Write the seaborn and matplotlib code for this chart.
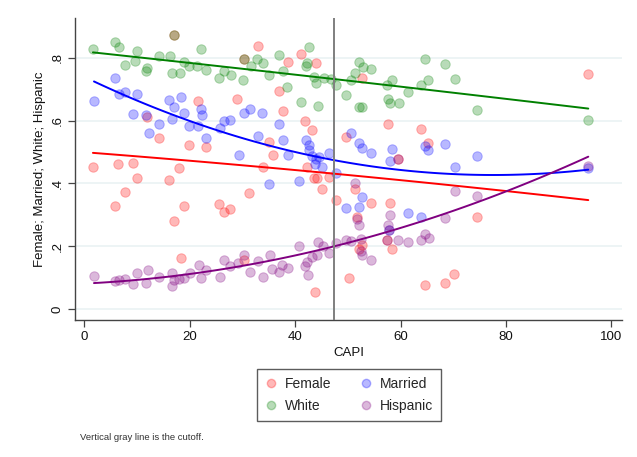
import numpy as np
import pandas as pd
import matplotlib
matplotlib.use("Agg")
import matplotlib.pyplot as plt
from matplotlib.lines import Line2D
import seaborn as sns

# ---------------- data ----------------
female_x = [17, 21.5, 11.8, 14.2, 19.9, 23, 1.6, 6.3, 9.3, 17.9, 33, 41, 38.7, 43.9, 30.3, 36.9, 29,
            37.6, 41.9, 43.1, 35, 35.7, 33.8, 42.3, 49.6, 43.6, 44.2, 45.1, 46.4, 47.7, 31.3, 25.6,
            26.5, 27.6, 30.3, 43.8, 50.2, 10, 16.1, 7.6, 5.7, 18.9, 17, 18.3, 51.4, 54.3, 57.9, 51.8,
            52.1, 52.7, 58.3, 57.4, 64.6, 68.4, 70.1, 74.5, 52.7, 57.6, 63.8, 65.2, 59.5, 95.6]
female_y = [.872, .662, .612, .543, .522, .517, .453, .462, .464, .448, .838, .813, .785, .782, .795,
            .695, .670, .629, .599, .570, .533, .491, .453, .453, .548, .417, .417, .384, .422, .346,
            .369, .335, .310, .318, .157, .056, .098, .417, .412, .372, .329, .329, .282, .162, .384,
            .339, .339, .293, .193, .205, .193, .220, .077, .085, .113, .293, .734, .589, .572, .530,
            .477, .748]

married_x = [1.8, 5.7, 6.5, 7.6, 10, 9.3, 11.6, 12.2, 14.2, 16.1, 17, 18.3, 16.7, 18.9, 19.8, 21.5,
             22.1, 22.3, 23, 25.7, 26.5, 27.6, 30.3, 31.4, 33.6, 36.9, 33, 29.4, 37.6, 38.7, 42,
             42.6, 42.6, 43.2, 43.9, 44.5, 46.4, 45.1, 43.8, 35, 40.8, 47.8, 49.6, 50.5, 52.1, 52.7,
             54.3, 58.3, 57.9, 64.6, 65.2, 68.4, 70.3, 74.5, 52.7, 52, 61.4, 63.8, 57.8, 95.6]
married_y = [.662, .734, .685, .690, .685, .620, .617, .562, .588, .665, .642, .675, .604, .625, .583,
             .583, .636, .617, .543, .575, .600, .602, .625, .636, .625, .589, .550, .491, .537, .491,
             .537, .522, .505, .488, .477, .483, .498, .453, .462, .399, .407, .434, .321, .560, .530,
             .512, .496, .508, .470, .519, .507, .527, .453, .486, .358, .324, .307, .295, .252, .448]

white_x = [1.6, 5.7, 6.5, 10, 7.6, 9.5, 11.8, 11.6, 14.2, 16.3, 16.7, 18.1, 17, 18.9, 19.9, 22.1, 21.3,
           23, 25.6, 26.5, 27.8, 30, 30.3, 32.8, 33.8, 31.6, 35, 36.9, 37.6, 38.5, 41, 42.6, 42, 42.3,
           43.6, 43.9, 44.4, 45.5, 46.7, 47.7, 49.6, 50.5, 51.4, 52.1, 52.8, 54.3, 52, 52.6, 57.4,
           58.3, 57.6, 57.9, 59.7, 61.4, 63.8, 64.6, 65.2, 68.4, 70.3, 74.5, 95.6]
white_y = [.826, .850, .833, .822, .778, .788, .768, .759, .805, .805, .752, .752, .872, .785, .772,
           .826, .772, .760, .734, .756, .745, .729, .795, .795, .782, .773, .745, .808, .757, .708,
           .660, .835, .772, .782, .740, .719, .647, .734, .731, .713, .681, .729, .750, .785, .769,
           .763, .643, .643, .713, .728, .667, .655, .657, .692, .713, .795, .729, .780, .731, .633, .602]

hispanic_x = [1.8, 5.7, 6.6, 7.6, 9.3, 10, 11.6, 12, 14.2, 16.7, 16.6, 17, 18, 18.9, 20, 21.8, 22.1, 23,
              25.7, 26.5, 27.6, 29.2, 30.3, 31.4, 33, 33.8, 35.2, 35.6, 36.9, 37.4, 38.7, 40.8,
              41.9, 42.3, 42.5, 43.2, 44.2, 44.4, 45.3, 46.4, 47.8, 49.6, 50.5, 51.4, 51.8, 52, 52.4,
              52.4, 52.6, 54.3, 57.9, 57.6, 57.8, 57.4, 59.5, 61.4, 63.8, 64.6, 65.3, 68.4, 70.3,
              74.5, 59.5, 95.6]
hispanic_y = [.107, .089, .094, .096, .082, .115, .084, .125, .104, .115, .075, .092, .096, .099, .115,
              .141, .099, .125, .102, .157, .138, .148, .172, .117, .155, .104, .172, .127, .117,
              .141, .131, .202, .138, .151, .11, .167, .172, .215, .202, .178, .212, .220, .218, .401,
              .286, .268, .222, .186, .172, .157, .300, .268, .252, .220, .220, .215, .220, .239, .226,
              .290, .377, .360, .477, .454]

cutoff = 47.3
x_ticks = [0, 20, 40, 60, 80, 100]
y_ticks = [0, 0.2, 0.4, 0.6, 0.8]
y_tick_labels = ["0", ".2", ".4", ".6", ".8"]

series = [
    ("Female", female_x, female_y, "#ff0000"),
    ("White", white_x, white_y, "#008000"),
    ("Married", married_x, married_y, "#0000ff"),
    ("Hispanic", hispanic_x, hispanic_y, "#800080"),
]

# ---------------- figure ----------------
sns.set_theme(style="white")
plt.rcParams["font.family"] = ["Liberation Sans", "DejaVu Sans"]

W, H = 637, 457
fig = plt.figure(figsize=(W / 100, H / 100), dpi=100)
fig.patch.set_facecolor("white")
ax = fig.add_axes([75 / W, 1 - 320 / H, 547 / W, 302 / H])

for name, xs, ys, col in series:
    df = pd.DataFrame({"CAPI": xs, "val": ys})
    sns.scatterplot(data=df, x="CAPI", y="val", ax=ax, color=col, alpha=0.28,
                    s=46, edgecolor=col, linewidth=0.7, zorder=3)

for name, xs, ys, col in series:
    df = pd.DataFrame({"CAPI": xs, "val": ys})
    sns.regplot(data=df, x="CAPI", y="val", ax=ax, order=2, ci=None,
                scatter=False, truncate=True,
                line_kws={"color": col, "lw": 1.4, "zorder": 4})

ax.axvline(cutoff, color="#7f7f7f", lw=1.4, zorder=5)

ax.set_xlim(-1.8, 102.0)
ax.set_ylim(-0.034, 0.926)
ax.set_xticks(x_ticks)
ax.set_xticklabels([str(t) for t in x_ticks])
ax.set_yticks(y_ticks)
ax.set_yticklabels(y_tick_labels, rotation=90, va="center")
ax.yaxis.grid(True, color="#eaf2f3", lw=1.2, zorder=0)
ax.xaxis.grid(False)
ax.set_axisbelow(True)

for s in ["top", "right"]:
    ax.spines[s].set_visible(False)
for s in ["left", "bottom"]:
    ax.spines[s].set_color("#444444")
    ax.spines[s].set_linewidth(1.0)
ax.tick_params(axis="both", which="major", direction="out", length=5, width=0.9,
               color="#444444", labelsize=9.5, labelcolor="#111111", pad=3,
               bottom=True, left=True)

ax.set_xlabel("CAPI", fontsize=9.5, color="#111111", labelpad=3)
ax.set_ylabel("Female; Married; White; Hispanic", fontsize=9.5, color="#111111", labelpad=4)

handles = [Line2D([], [], marker="o", linestyle="", markersize=6.0,
                  markerfacecolor=col, markeredgecolor=col, alpha=0.28)
           for _, _, _, col in series]
labels = [name for name, _, _, _ in series]
leg = fig.legend(handles, labels, ncol=2, loc="center",
                 bbox_to_anchor=(349 / W, 1 - 395 / H), fontsize=10,
                 frameon=True, fancybox=False, edgecolor="#333333",
                 handletextpad=0.5, columnspacing=2.0, borderpad=0.55,
                 labelspacing=0.6, handlelength=1.0)
leg.get_frame().set_linewidth(1.0)

fig.text(80 / W, 1 - 437 / H, "Vertical gray line is the cutoff.", fontsize=6.8,
         color="#333333", va="center", ha="left")

fig.savefig("out.png", dpi=100)
